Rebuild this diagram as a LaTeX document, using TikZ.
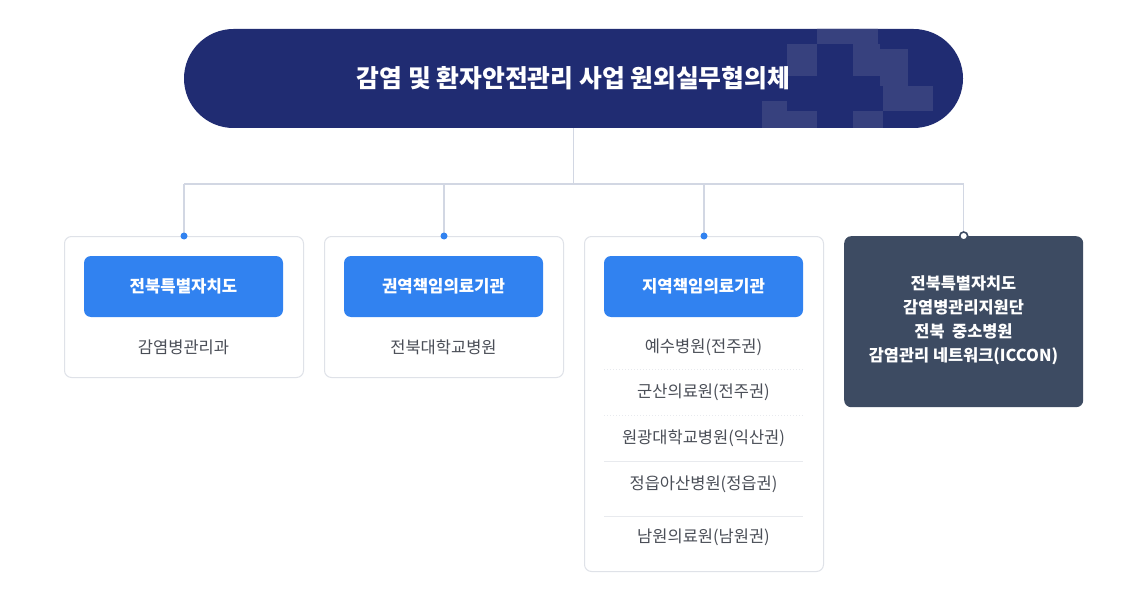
\documentclass[tikz,border=0pt]{standalone}
\usepackage{fontspec}
\setmainfont{Noto Sans CJK KR}
\definecolor{navy}{HTML}{202C72}
\definecolor{navylt}{HTML}{37417E}
\definecolor{btnblue}{HTML}{3182F0}
\definecolor{slate}{HTML}{3D4B62}
\definecolor{conn}{HTML}{D2D7E3}
\definecolor{bord}{HTML}{DFE2E8}
\definecolor{sep}{HTML}{E8EAEE}
\definecolor{txt}{HTML}{4A4E57}
\tikzset{
  banner/.style={fill=navy, rounded corners=49.5pt, minimum width=779pt, minimum height=99pt, inner sep=0pt},
  card/.style={draw=bord, line width=1pt, fill=white, rounded corners=7pt, anchor=north west, minimum width=239pt, inner sep=0pt},
  darkcard/.style={fill=slate, rounded corners=7pt, anchor=north west, minimum width=239pt, inner sep=0pt},
  btn/.style={fill=btnblue, rounded corners=7pt, minimum width=199pt, minimum height=61pt, inner sep=0pt, text=white, font=\fontsize{16.7}{20}\selectfont\bfseries},
  item/.style={text=txt, font=\fontsize{16.5}{20}\selectfont, inner sep=0pt},
  conline/.style={draw=conn, line width=1.5pt},
  bdot/.style={circle, fill=btnblue, minimum size=7pt, inner sep=0pt},
  wdot/.style={circle, fill=white, draw=slate, line width=1.6pt, minimum size=8pt, inner sep=0pt},
  seprule/.style={draw=sep, line width=1pt},
}
\begin{document}
\begin{tikzpicture}[x=1pt,y=-1pt]
\useasboundingbox[fill=white] (0,0) rectangle (1148,604);
% banner
\node[banner] (top) at (573.5,78.5) {};
\begin{scope}
  \clip[rounded corners=49.5pt] (top.north west) rectangle (top.south east);
  \fill[navylt] (817,28) rectangle (878,44);
  \fill[navylt] (787,44) rectangle (817,76);
  \fill[navylt] (853,44) rectangle (880,76);
  \fill[navylt] (880,49) rectangle (908,86);
  \fill[navylt] (883,86) rectangle (933,111);
  \fill[navylt] (762,101) rectangle (787,128);
  \fill[navylt] (787,111) rectangle (817,128);
  \fill[navylt] (853,111) rectangle (883,128);
\end{scope}
\node[text=white, font=\fontsize{24.8}{30}\selectfont\bfseries, inner sep=0pt] (title) at (top.center) {감염 및 환자안전관리 사업 원외실무협의체};
% cards
\node[card, minimum height=141pt] (b1) at (64,236) {};
\node[card, minimum height=141pt] (b2) at (324,236) {};
\node[card, minimum height=335pt] (b3) at (584,236) {};
\node[darkcard, minimum height=171pt] (b4) at (844,236) {};
% connectors
\coordinate (bus) at (0,184);
\draw[conline] (top.south) -- (top.south |- bus);
\draw[conline] (b1.north |- bus) -- (b4.north |- bus);
\foreach \b in {b1,b2,b3,b4} \draw[conline] (\b.north |- bus) -- (\b.north);
\node[bdot] (d1) at (b1.north) {};
\node[bdot] (d2) at (b2.north) {};
\node[bdot] (d3) at (b3.north) {};
\node[wdot] (d4) at (b4.north) {};
% buttons
\node[btn] (t1) at (183.5,286.5) {전북특별자치도};
\node[btn] (t2) at (443.5,286.5) {권역책임의료기관};
\node[btn] (t3) at (703.5,286.5) {지역책임의료기관};
\node[item] (s1) at (183.5,347) {감염병관리과};
\node[item] (s2) at (443.5,347) {전북대학교병원};
\node[item] (i1) at (703.5,347) {예수병원(전주권)};
\node[item] (i2) at (703.5,392) {군산의료원(전주권)};
\node[item] (i3) at (703.5,438) {원광대학교병원(익산권)};
\node[item] (i4) at (703.5,484) {정읍아산병원(정읍권)};
\node[item] (i5) at (703.5,537) {남원의료원(남원권)};
\draw[seprule, dotted] (604,369.5) -- (803,369.5);
\draw[seprule, dotted] (604,415.5) -- (803,415.5);
\draw[seprule] (604,461.5) -- (803,461.5);
\draw[seprule] (604,516) -- (803,516);
% dark card text
\node[text=white, font=\fontsize{16.4}{24}\selectfont\bfseries, align=center, inner sep=0pt] (t4) at (963.5,320) {전북특별자치도\\감염병관리지원단\\전북\ \ 중소병원\\감염관리 네트워크(ICCON)};
\end{tikzpicture}
\end{document}
